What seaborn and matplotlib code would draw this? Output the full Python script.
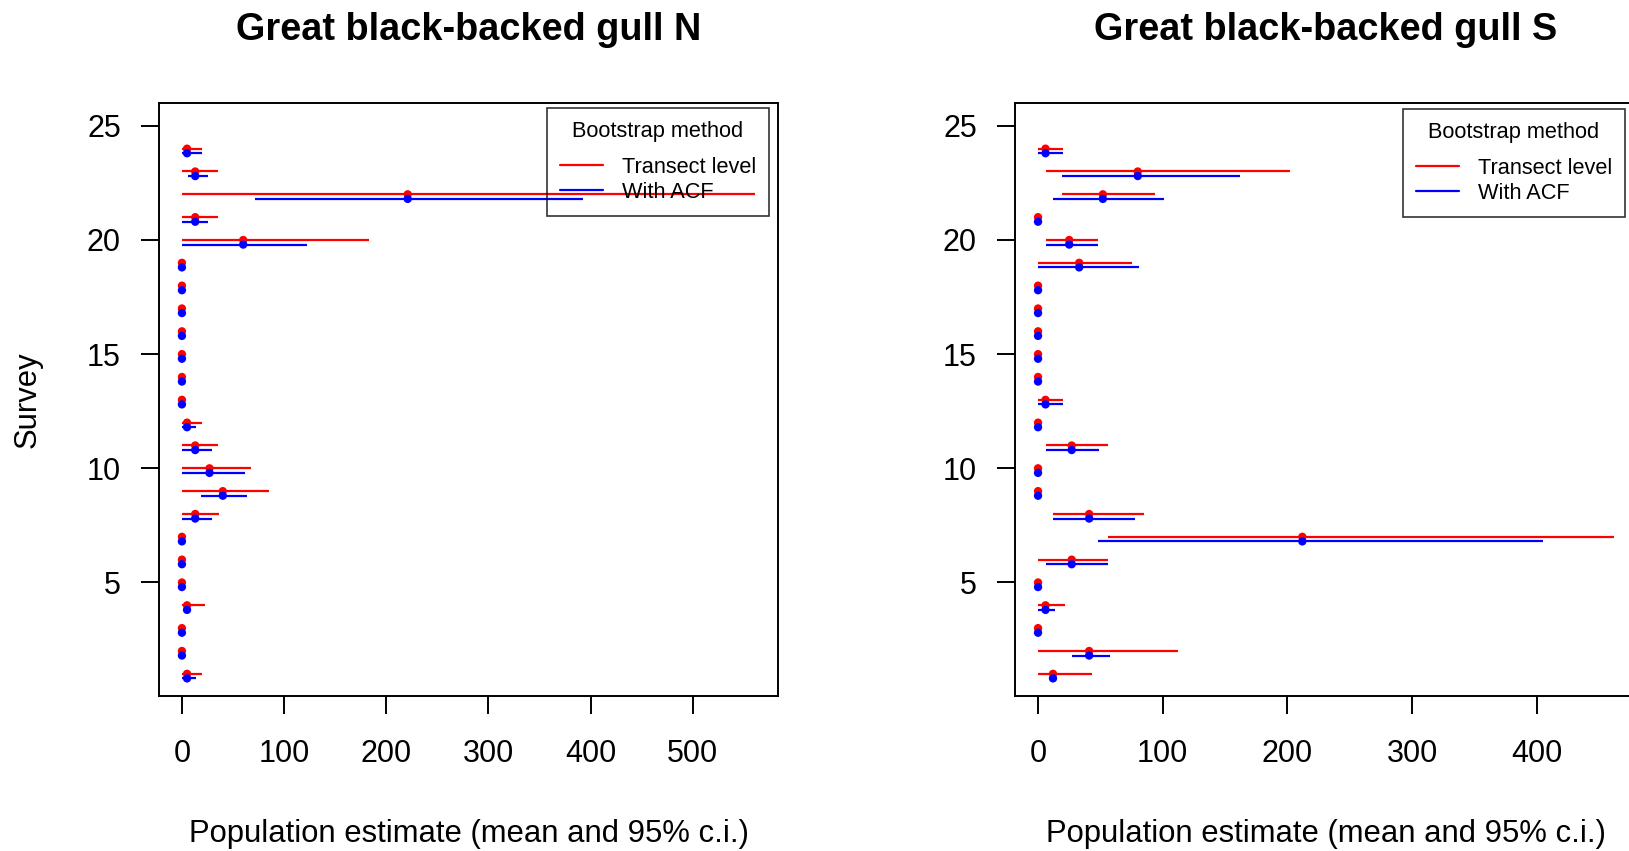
import matplotlib
matplotlib.use("Agg")
import matplotlib.pyplot as plt
import numpy as np
import pandas as pd
import seaborn as sns
from matplotlib.lines import Line2D

# ---------------- data ----------------
surveys = list(range(1, 25))

# Great black-backed gull N
n_tl_mean = [5, 0, 0, 5, 0, 0, 0, 13, 40, 27, 13, 5, 0, 0, 0, 0, 0, 0, 0, 60, 13, 221, 13, 5]
n_tl_lo   = [0, 0, 0, 0, 0, 0, 0, 0, 0, 0, 0, 0, 0, 0, 0, 0, 0, 0, 0, 0, 0, 0, 0, 0]
n_tl_hi   = [20, 0, 0, 23, 0, 0, 0, 36, 85, 68, 35, 20, 0, 0, 0, 0, 0, 0, 0, 183, 35, 561, 35, 20]
n_acf_mean = [5, 0, 0, 5, 0, 0, 0, 13, 40, 27, 13, 5, 0, 0, 0, 0, 0, 0, 0, 60, 13, 221, 13, 5]
n_acf_lo   = [0, 0, 0, 4.5, 0, 0, 0, 0, 19, 0, 0, 0, 0, 0, 0, 0, 0, 0, 0, 0, 0, 72, 5.5, 0]
n_acf_hi   = [14, 0, 0, 6, 0, 0, 0, 29, 64, 62, 29, 14, 0, 0, 0, 0, 0, 0, 0, 122, 26, 393, 26, 20]

# Great black-backed gull S
s_tl_mean = [12, 41, 0, 6, 0, 27, 212, 41, 0, 0, 27, 0, 6, 0, 0, 0, 0, 0, 33, 25, 0, 52, 80, 6]
s_tl_lo   = [0, 0, 0, 0, 0, 0, 56, 12, 0, 0, 6, 0, 0, 0, 0, 0, 0, 0, 0, 6, 0, 19, 6, 0]
s_tl_hi   = [43, 112, 0, 22, 0, 56, 462, 85, 0, 0, 56, 0, 20, 0, 0, 0, 0, 0, 75, 48, 0, 94, 202, 20]
s_acf_mean = [12, 41, 0, 6, 0, 27, 212, 41, 0, 0, 27, 0, 6, 0, 0, 0, 0, 0, 33, 25, 0, 52, 80, 6]
s_acf_lo   = [10, 27, 0, 0, 0, 6, 48, 12, 0, 0, 6, 0, 0, 0, 0, 0, 0, 0, 0, 6, 0, 12, 19, 0]
s_acf_hi   = [15, 58, 0, 14, 0, 56, 405, 78, 0, 0, 49, 0, 20, 0, 0, 0, 0, 0, 81, 48, 0, 101, 162, 20]

methods = ["Transect level", "With ACF"]
titles = ["Great black-backed gull N", "Great black-backed gull S"]
legend_title = "Bootstrap method"
xlabel = "Population estimate (mean and 95% c.i.)"
ylabel = "Survey"
yticks = [5, 10, 15, 20, 25]
xticks_n = [0, 100, 200, 300, 400, 500]
xticks_s = [0, 100, 200, 300, 400]

# ---------------- build tidy table ----------------
def block(region, method, mean, lo, hi):
    return pd.DataFrame({"region": region, "method": method, "survey": surveys,
                         "mean": mean, "lo": lo, "hi": hi})

df = pd.concat([
    block("N", methods[0], n_tl_mean, n_tl_lo, n_tl_hi),
    block("N", methods[1], n_acf_mean, n_acf_lo, n_acf_hi),
    block("S", methods[0], s_tl_mean, s_tl_lo, s_tl_hi),
    block("S", methods[1], s_acf_mean, s_acf_lo, s_acf_hi),
], ignore_index=True)

colors = {methods[0]: "#FF0000", methods[1]: "#0000FF"}
offsets = {methods[0]: 0.0, methods[1]: -0.2}
df["ypos"] = df["survey"] + df["method"].map(offsets)

# ---------------- style ----------------
sns.set_theme(style="ticks")
plt.rcParams["font.family"] = ["Liberation Sans", "DejaVu Sans"]
plt.rcParams["axes.edgecolor"] = "black"
plt.rcParams["xtick.color"] = "black"
plt.rcParams["ytick.color"] = "black"
plt.rcParams["text.color"] = "black"
plt.rcParams["axes.labelcolor"] = "black"

W, H = 1629, 851
fig = plt.figure(figsize=(W / 100, H / 100), dpi=100)
fig.patch.set_facecolor("white")

ax_top, ax_bot = 103, 695.5
panels = [
    ("N", titles[0], 159, 778, xticks_n, (769, 108)),
    ("S", titles[1], 1015, 1637, xticks_s, (1625, 109)),
]

for region, title, xl, xr, xticks, leg_anchor in panels:
    ax = fig.add_axes([xl / W, 1 - ax_bot / H, (xr - xl) / W, (ax_bot - ax_top) / H])
    ax.set_facecolor("white")
    sub = df[df["region"] == region]
    for m in methods:
        d = sub[sub["method"] == m]
        ax.hlines(d["ypos"], d["lo"], d["hi"], color=colors[m], lw=1.6, zorder=2)
    sns.scatterplot(data=sub, x="mean", y="ypos", hue="method", hue_order=methods,
                    palette=colors, s=36, linewidth=0, legend=False, ax=ax, zorder=3)

    xmax = sub["hi"].max()
    pad = 0.04 * xmax
    ax.set_xlim(-pad, xmax + pad)
    ax.set_ylim(0.05, 26.0)
    ax.set_xticks(xticks)
    ax.set_yticks(yticks)
    ax.set_xlabel("")
    ax.set_ylabel("")
    for sp in ax.spines.values():
        sp.set_visible(True)
        sp.set_linewidth(1.4)
        sp.set_color("black")
    ax.tick_params(axis="both", direction="out", length=13, width=1.4, labelsize=22)
    ax.tick_params(axis="x", pad=18.5)
    ax.tick_params(axis="y", pad=14.5)
    ax.set_title(title, fontsize=27.3, fontweight="bold", pad=45.7)

    handles = [Line2D([], [], color=colors[m], lw=1.6) for m in methods]
    leg = ax.legend(handles, methods, title=legend_title, loc="upper right",
                    bbox_to_anchor=(leg_anchor[0] / W, 1 - leg_anchor[1] / H),
                    bbox_transform=fig.transFigure, fontsize=15.7, title_fontsize=15.7,
                    frameon=True, fancybox=False, edgecolor="black", facecolor="none",
                    framealpha=None, borderpad=0.6, labelspacing=0.19,
                    handlelength=2.0, handletextpad=0.84, borderaxespad=0)
    leg.get_frame().set_linewidth(1.2)
    # wider gap between the legend title and its entries (as in the reference)
    leg._legend_box.sep = 10.4

    fig.text(((xl + xr) / 2) / W, 1 - 842 / H, xlabel, ha="center", va="baseline",
             fontsize=22.3)

fig.text(28 / W, 1 - 399.5 / H, ylabel, rotation=90, ha="center", va="center",
         fontsize=22.3)

fig.savefig("out.png", dpi=100)
